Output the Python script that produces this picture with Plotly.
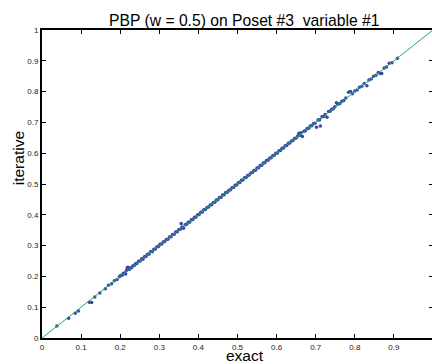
import plotly.graph_objects as go

# Values
exact = [
    0.038, 0.068, 0.085, 0.093, 0.121, 0.127, 0.135, 0.148, 0.162, 0.170, 0.178, 0.185, 0.192, 0.198,
    0.201, 0.205, 0.208, 0.212, 0.214, 0.216, 0.218, 0.220, 0.223, 0.226, 0.229, 0.232, 0.236, 0.239,
    0.243, 0.247, 0.251, 0.255, 0.258, 0.262, 0.266, 0.270, 0.274, 0.278, 0.282, 0.286, 0.290, 0.294,
    0.298, 0.302, 0.306, 0.310, 0.314, 0.318, 0.322, 0.326, 0.330, 0.334, 0.338, 0.342, 0.346, 0.350,
    0.354, 0.356, 0.358, 0.362, 0.366, 0.370, 0.374, 0.378, 0.382, 0.386, 0.390, 0.394, 0.398, 0.402,
    0.406, 0.410, 0.414, 0.418, 0.422, 0.426, 0.430, 0.434, 0.438, 0.442, 0.446, 0.450, 0.454, 0.458,
    0.462, 0.466, 0.470, 0.474, 0.478, 0.482, 0.486, 0.490, 0.494, 0.498, 0.502, 0.506, 0.510, 0.514,
    0.518, 0.522, 0.526, 0.530, 0.534, 0.538, 0.542, 0.546, 0.550, 0.554, 0.558, 0.562, 0.566, 0.570,
    0.574, 0.578, 0.582, 0.586, 0.590, 0.594, 0.598, 0.602, 0.606, 0.610, 0.614, 0.618, 0.622, 0.626,
    0.630, 0.634, 0.638, 0.642, 0.646, 0.650, 0.654, 0.657, 0.660, 0.663, 0.666, 0.670, 0.674, 0.678,
    0.682, 0.686, 0.690, 0.694, 0.698, 0.702, 0.706, 0.710, 0.712, 0.716, 0.720, 0.724, 0.729, 0.733,
    0.737, 0.741, 0.745, 0.749, 0.753,
    0.757, 0.762, 0.767, 0.772, 0.777, 0.784, 0.789, 0.794, 0.800, 0.806, 0.812, 0.818, 0.824, 0.831,
    0.836, 0.842, 0.848, 0.854, 0.860, 0.865, 0.869, 0.875, 0.881, 0.888, 0.895, 0.909,
]
iterative = [
    0.039, 0.064, 0.080, 0.088, 0.116, 0.115, 0.133, 0.146, 0.160, 0.171, 0.176, 0.186, 0.190, 0.199,
    0.203, 0.204, 0.210, 0.211, 0.208, 0.219, 0.228, 0.230, 0.222, 0.227, 0.228, 0.234, 0.235, 0.241,
    0.242, 0.249, 0.250, 0.257, 0.256, 0.264, 0.265, 0.272, 0.273, 0.281, 0.280, 0.288, 0.289, 0.296,
    0.297, 0.304, 0.305, 0.312, 0.313, 0.320, 0.321, 0.328, 0.329, 0.336, 0.337, 0.344, 0.345, 0.352,
    0.353, 0.372, 0.360, 0.356, 0.368, 0.369, 0.376, 0.377, 0.384, 0.385, 0.392, 0.393, 0.400, 0.401,
    0.408, 0.409, 0.416, 0.417, 0.424, 0.425, 0.432, 0.433, 0.440, 0.441, 0.448, 0.449, 0.456, 0.457,
    0.464, 0.465, 0.472, 0.473, 0.480, 0.481, 0.488, 0.489, 0.496, 0.497, 0.504, 0.505, 0.512, 0.513,
    0.520, 0.521, 0.528, 0.529, 0.536, 0.537, 0.544, 0.545, 0.552, 0.553, 0.560, 0.561, 0.568, 0.569,
    0.576, 0.577, 0.584, 0.585, 0.592, 0.593, 0.600, 0.601, 0.608, 0.609, 0.616, 0.617, 0.624, 0.625,
    0.632, 0.633, 0.640, 0.641, 0.648, 0.649, 0.656, 0.665, 0.658, 0.666, 0.654, 0.671, 0.673, 0.680,
    0.681, 0.688, 0.689, 0.696, 0.697, 0.684, 0.708, 0.709, 0.688, 0.718, 0.719, 0.726, 0.717, 0.735,
    0.736, 0.743, 0.744, 0.751, 0.764,
    0.759, 0.761, 0.769, 0.771, 0.779, 0.798, 0.800, 0.793, 0.802, 0.805, 0.814, 0.817, 0.826, 0.819,
    0.838, 0.841, 0.850, 0.853, 0.862, 0.859, 0.859, 0.877, 0.880, 0.892, 0.894, 0.908,
]
diag = [0, 1]
x_ticks = [0, 0.1, 0.2, 0.3, 0.4, 0.5, 0.6, 0.7, 0.8, 0.9]
x_tick_text = ["0", "0.1", "0.2", "0.3", "0.4", "0.5", "0.6", "0.7", "0.8", "0.9"]
y_ticks = [0, 0.1, 0.2, 0.3, 0.4, 0.5, 0.6, 0.7, 0.8, 0.9, 1]
y_tick_text = ["0", "0.1", "0.2", "0.3", "0.4", "0.5", "0.6", "0.7", "0.8", "0.9", "1"]

title_text = "PBP (w = 0.5) on Poset #3  variable #1"
x_label = "exact"
y_label = "iterative"

FONT = "Liberation Sans, Arial, Helvetica, sans-serif"

fig = go.Figure()
fig.add_trace(go.Scatter(
    x=exact, y=iterative, mode="markers",
    marker=dict(size=3.5, color="#3a46a8", line=dict(width=0)),
    showlegend=False,
))
fig.add_trace(go.Scatter(
    x=diag, y=diag, mode="lines",
    line=dict(color="#1fa86a", width=1),
    showlegend=False,
))

axis_common = dict(
    showgrid=False, zeroline=False, showline=True, linecolor="black", linewidth=2,
    mirror="allticks", ticks="inside", ticklen=4, tickwidth=1, tickcolor="black",
    tickfont=dict(family=FONT, size=8, color="#222222"),
)
fig.update_xaxes(range=[0, 1], tickvals=x_ticks, ticktext=x_tick_text, **axis_common)
fig.update_yaxes(range=[0, 1], tickvals=y_ticks, ticktext=y_tick_text, **axis_common)

# Figure is slightly wider than the 432 px window: the right frame edge sits just off-screen
W = 436
fig.update_layout(
    width=W, height=364,
    margin=dict(l=42, r=1, t=30, b=26),
    paper_bgcolor="white", plot_bgcolor="white",
    font=dict(family=FONT),
    annotations=[
        dict(text=title_text, xref="paper", yref="paper", x=(245 - 42) / 393, y=1.032,
             xanchor="center", yanchor="middle", showarrow=False,
             font=dict(family=FONT, size=15.7, color="black")),
        dict(text=x_label, xref="paper", yref="paper", x=(246 - 42) / 393, y=-0.057,
             xanchor="center", yanchor="middle", showarrow=False,
             font=dict(family=FONT, size=15.5, color="black")),
        dict(text=y_label, xref="paper", yref="paper", x=(18 - 42) / 393, y=0.584,
             xanchor="center", yanchor="middle", showarrow=False, textangle=-90,
             font=dict(family=FONT, size=15.5, color="black")),
    ],
)

fig.write_html(
    "out.html",
    config={"displayModeBar": False},
    post_script="document.body.style.margin='0';document.body.style.overflow='hidden';",
)
